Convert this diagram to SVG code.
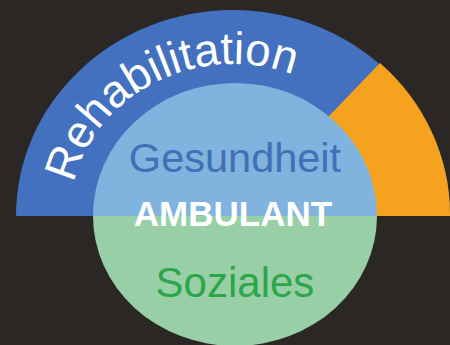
<svg xmlns="http://www.w3.org/2000/svg" width="450" height="345" viewBox="0 0 450 345">
<style>
.t{font-family:"Liberation Sans",Arial,sans-serif;text-anchor:middle}
</style>
<defs>
<path id="arcPath" d="M 70,216 A 163 152 0 0 1 396,216"/>
</defs>
<rect width="450" height="345" fill="#2B2725"/>
<g id="rehabilitation">
<path d="M 16,216 A 217 206 0 0 1 450,216 Z" fill="#4371BF"/>
<text style="font-family:'Liberation Sans',Arial,sans-serif" font-size="45.5" fill="#FFFFFF"><textPath href="#arcPath" startOffset="33">Rehabilitation</textPath></text>
</g>
<g id="orange">
<path d="M 233,216 L 380,63 A 217 206 0 0 1 450,216 Z" fill="#F5A31E"/>
</g>
<g id="gesundheit">
<path d="M 93,216 A 142 133 0 0 1 377,216 Z" fill="#80B3DD"/>
<text class="t" x="235" y="172" font-size="41.5" fill="#4170B8">Gesundheit</text>
</g>
<g id="soziales">
<path d="M 93,216 A 142 130 0 0 0 377,216 Z" fill="#99CFA6"/>
<text class="t" x="235" y="297" font-size="42" fill="#2BA64B">Soziales</text>
</g>
<g id="ambulant">
<text class="t" x="233" y="226" font-size="35" font-weight="bold" fill="#FFFFFF">AMBULANT</text>
</g>
<g id="connectors"/>
</svg>
